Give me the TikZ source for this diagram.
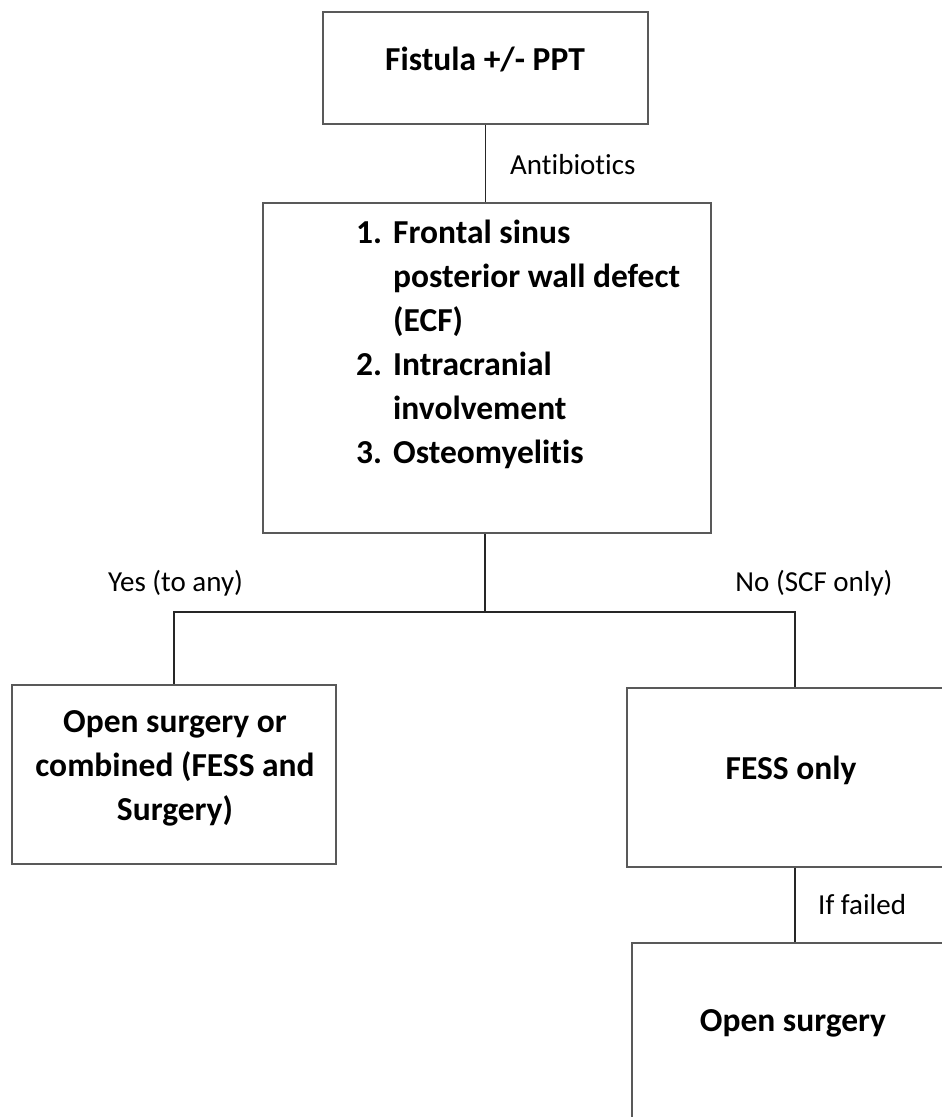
\documentclass[tikz,border=0pt]{standalone}
\usepackage{fontspec}
\setmainfont[Ligatures={NoCommon}]{Carlito}
\usepackage{tikz}
\usetikzlibrary{positioning}
\usepackage{array}

\begin{document}
\begin{tikzpicture}[x=1pt, y=-1pt,
		box/.style={shape=rectangle, draw=black!65, line width=1.6pt, inner sep=0pt},
		boxtext/.style={font=\fontsize{33.5}{44}\selectfont\bfseries, align=center, inner sep=0pt},
		lbl/.style={font=\fontsize{29}{35}\selectfont, inner sep=0pt},
		wire/.style={draw=black!85, line width=1.6pt}]
			% Frame and clipping:
			\useasboundingbox (0, 0) rectangle (942, 1117);
			\clip (0, 0) rectangle (942, 1117);
			% Boxes and texts:
			\node[box, minimum width=325pt, minimum height=112pt](fistula) at (485.5, 68){};
			\node[boxtext](fistulatext) at (485, 60){Fistula +/- PPT};
			\node[box, minimum width=448pt, minimum height=330pt](criteria) at (487, 368){};
			\node[boxtext, anchor=base west](criteriatext) at (356, 243){%
				\begin{tabular}[t]{@{}p{37pt}@{}l@{}}
					1. & Frontal sinus\\
					& posterior wall defect\\
					& (ECF)\\
					2. & Intracranial\\
					& involvement\\
					3. & Osteomyelitis
				\end{tabular}};
			\node[box, minimum width=324pt, minimum height=179pt](combined) at (174, 774.5){};
			\node[boxtext](combinedtext) at (175, 768){Open surgery or\\combined (FESS and\\Surgery)};
			\node[box, minimum width=336pt, minimum height=179pt](fess) at (795, 777.5){};
			\node[boxtext](fesstext) at (791, 770){FESS only};
			\node[box, minimum width=326pt, minimum height=190pt](opensurg) at (795, 1038){};
			\node[boxtext](opentext) at (793, 1023){Open surgery};
			% Wires and labels:
			\coordinate (split) at (485, 612);
			\draw[wire] (fistula.south) -- (fistula.south |- criteria.north);
			\draw[wire] (criteria.south -| split) -- (split);
			\draw[wire] (split) -| (combined.north);
			\draw[wire] (split) -| (fess.north);
			\draw[wire] (fess.south) -- (opensurg.north);
			\node[lbl, anchor=west](antib) at (510, 165){Antibiotics};
			\node[lbl](yes) at (175.5, 583){Yes (to any)};
			\node[lbl](no) at (814, 583){No (SCF only)};
			\node[lbl, anchor=west](failed) at (818, 905){If failed};
		\end{tikzpicture}
\end{document}
